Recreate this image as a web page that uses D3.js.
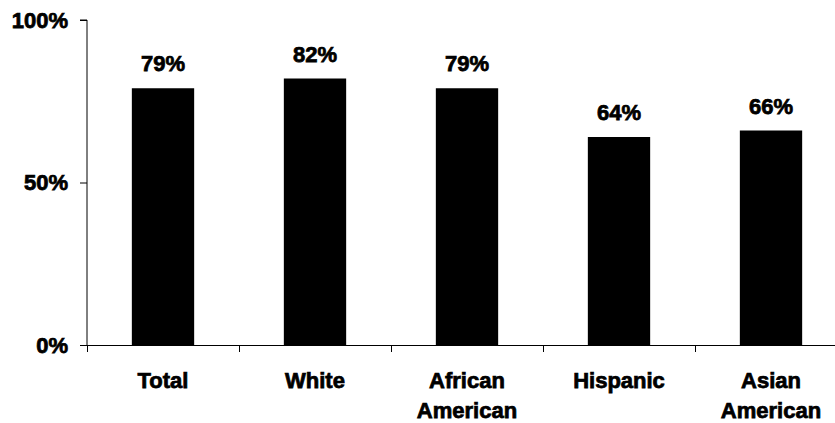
<!DOCTYPE html>
<html>
<head>
<meta charset="utf-8">
<script src="https://cdn.jsdelivr.net/npm/d3@7"></script>
<style>
  html, body { margin: 0; padding: 0; background: #fff; overflow: hidden; }
  svg { display: block; }
  svg text.lbl { font-family: "Liberation Sans", Arial, sans-serif; font-weight: 700; fill: #000; stroke: #000; stroke-width: 0.75px; }
</style>
</head>
<body>
<svg id="chart" width="835" height="423"></svg>
<script>
// Share by group
const categories = [["Total"], ["White"], ["African", "American"], ["Hispanic"], ["Asian", "American"]];
const values = [79, 82, 79, 64, 66];
const yTicks = [0, 50, 100];

const svg = d3.select("#chart");
const plotLeft = 87, plotTop = 20, plotBottom = 345;
const bandW = 152;
const fontSize = 22;

const x = d3.scaleBand()
  .domain(d3.range(categories.length))
  .range([plotLeft, plotLeft + bandW * categories.length])
  .paddingInner(0.59)
  .paddingOuter(0.295);

const y = d3.scaleLinear().domain([0, 100]).range([plotBottom, plotTop]);

// Bars
svg.selectAll("rect.bar")
  .data(values)
  .join("rect")
  .attr("class", "bar")
  .attr("x", (d, i) => x(i))
  .attr("width", x.bandwidth())
  .attr("y", d => y(d))
  .attr("height", d => y(0) - y(d))
  .attr("fill", "#000");

// Value labels
svg.selectAll("text.val")
  .data(values)
  .join("text")
  .attr("class", "val lbl")
  .attr("x", (d, i) => x(i) + x.bandwidth() / 2)
  .attr("y", d => y(d) - 17)
  .attr("text-anchor", "middle")
  .attr("font-size", fontSize)
  .text(d => d + "%");

// Y axis
const yAxis = d3.axisLeft(y).tickValues(yTicks).tickSize(7).tickPadding(12)
  .tickFormat(d => d + "%");
const gy = svg.append("g").attr("transform", `translate(${plotLeft},0)`).call(yAxis);
gy.attr("font-family", null).attr("font-size", null);
gy.select(".domain").attr("stroke", "#000").attr("stroke-width", 1).attr("d", `M-7,${plotTop}H0V${plotBottom}`);
gy.selectAll(".tick line").attr("stroke", "#000");
gy.selectAll(".tick text").attr("class", "lbl").attr("font-size", fontSize).attr("fill", null);

// X axis line and category dividers
const xb = d3.scaleLinear().domain([0, categories.length]).range([plotLeft, plotLeft + bandW * categories.length]);
svg.append("line")
  .attr("x1", plotLeft).attr("x2", 835)
  .attr("y1", plotBottom + 0.5).attr("y2", plotBottom + 0.5)
  .attr("stroke", "#000");
svg.selectAll("line.div")
  .data(d3.range(categories.length + 1))
  .join("line")
  .attr("class", "div")
  .attr("x1", d => Math.round(xb(d)) + 0.5).attr("x2", d => Math.round(xb(d)) + 0.5)
  .attr("y1", plotBottom).attr("y2", plotBottom + 7)
  .attr("stroke", "#000");

// Category labels
const cat = svg.selectAll("text.cat")
  .data(categories)
  .join("text")
  .attr("class", "cat lbl")
  .attr("text-anchor", "middle")
  .attr("font-size", fontSize)
  .attr("x", (d, i) => x(i) + x.bandwidth() / 2)
  .attr("y", 388);
cat.selectAll("tspan")
  .data(d => d)
  .join("tspan")
  .attr("x", function () { return d3.select(this.parentNode).attr("x"); })
  .attr("dy", (d, i) => i === 0 ? 0 : 30)
  .text(d => d);
</script>
</body>
</html>
